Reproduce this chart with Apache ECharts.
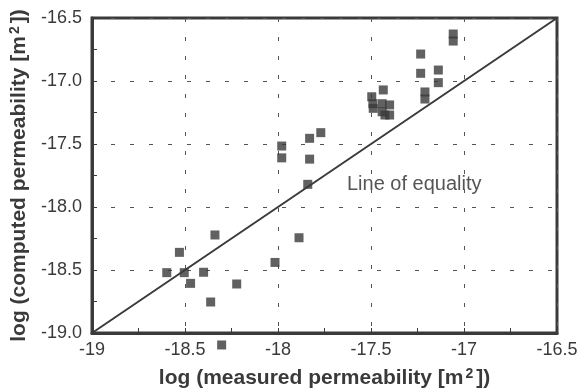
<!DOCTYPE html>
<html><head><meta charset="utf-8">
<script src="https://cdn.jsdelivr.net/npm/echarts@6/dist/echarts.min.js"></script>
<style>html,body{margin:0;padding:0;background:#fff}#c{width:580px;height:390px}</style>
</head><body><div id="c"></div>
<script>
const measured = [-18.598,-18.504,-18.53,-18.47,-18.40,-18.339,-18.362,-18.222,-18.303,-18.016,-17.887,-17.84,-17.98,-17.98,-17.83,-17.77,-17.83,-17.434,-17.496,-17.49,-17.488,-17.44,-17.40,-17.44,-17.425,-17.40,-17.233,-17.233,-17.138,-17.138,-17.21,-17.21,-17.058,-17.058];
const computed = [-18.521,-18.521,-18.36,-18.606,-18.518,-18.222,-18.754,-18.611,-19.095,-18.44,-18.244,-17.82,-17.516,-17.61,-17.455,-17.41,-17.62,-17.071,-17.125,-17.18,-17.217,-17.18,-17.19,-17.244,-17.27,-17.27,-16.786,-16.939,-16.913,-17.013,-17.087,-17.143,-16.627,-16.683];
const equalityEnds = [-19, -16.5];
const xTicks = [-19, -18.5, -18, -17.5, -17, -16.5];
const yTicks = [-19.0, -18.5, -18.0, -17.5, -17.0, -16.5];
const xNameParts = ['log (measured permeability [m', '2', '])'];
const yNameParts = ['log (computed permeability [m', '2', '])'];
const lineLabel = 'Line of equality';

const points = measured.map((x, i) => [x, computed[i]]);
const eqLine = equalityEnds.map(v => [v, v]);
const ink = '#3a3a3a';
const font = 'Liberation Sans, Arial, sans-serif';
const richName = p => '{a|' + p[0] + '}{s|' + p[1] + '}{a|' + p[2] + '}';

const axisCommon = {
  min: xTicks[0], max: xTicks[xTicks.length - 1], interval: 0.5,
  axisLine: { show: true, onZero: false, lineStyle: { color: ink, width: 3 } },
  axisTick: { show: true, inside: true, length: 5, lineStyle: { color: ink, width: 1 } },
  minorTick: { show: true, splitNumber: 2, length: 5, lineStyle: { color: ink, width: 1 } },
  splitLine: { show: true, lineStyle: { color: '#555', width: 1, type: [4, 15] } },
  nameLocation: 'middle',
  nameTextStyle: {
    color: ink, fontFamily: font,
    rich: {
      a: { color: ink, fontSize: 21, fontWeight: 'bold', fontFamily: font, lineHeight: 22 },
      s: { color: ink, fontSize: 14, fontWeight: 'bold', fontFamily: font, verticalAlign: 'top', lineHeight: 14, padding: [0, 3, 0, 2] }
    }
  }
};

const chart = echarts.init(document.getElementById('c'));
chart.setOption({
  animation: false,
  grid: { left: 92, right: 23, top: 18, bottom: 57, show: true, borderColor: ink, borderWidth: 3,
          containLabel: false, outerBoundsMode: 'none' },
  xAxis: Object.assign({}, axisCommon, {
    type: 'value', name: richName(xNameParts), nameGap: 34,
    axisLabel: { color: ink, fontSize: 18, fontFamily: font, margin: 8, formatter: v => String(v) }
  }),
  yAxis: Object.assign({}, axisCommon, {
    type: 'value', name: richName(yNameParts), nameGap: 58,
    min: yTicks[0], max: yTicks[yTicks.length - 1],
    axisLabel: { color: ink, fontSize: 18, fontFamily: font, margin: 10, formatter: v => v.toFixed(1) }
  }),
  graphic: [{
    type: 'text', left: 347, top: 174,
    style: { text: lineLabel, fill: '#555', font: '20px ' + font }
  }],
  series: [
    { type: 'line', data: eqLine, symbol: 'none', lineStyle: { color: ink, width: 2 }, z: 2 },
    { type: 'scatter', data: points, symbol: 'rect', symbolSize: 9, clip: false,
      itemStyle: { color: ink }, z: 3 }
  ]
});
</script></body></html>
